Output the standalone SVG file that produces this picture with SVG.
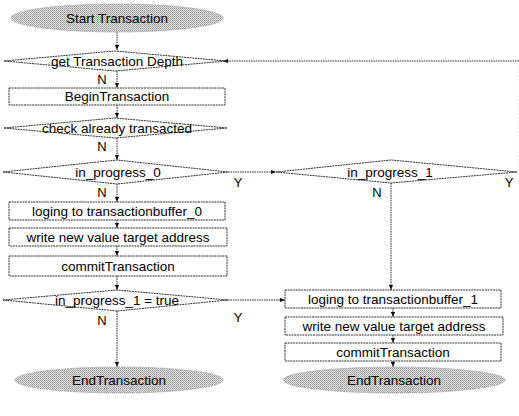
<svg xmlns="http://www.w3.org/2000/svg" width="519" height="416" viewBox="0 0 519 416">
  <defs>
    <!-- grainy grey halftone used for the terminator ellipses -->
    <pattern id="halftone" width="2" height="2" patternUnits="userSpaceOnUse">
      <rect width="2" height="2" fill="#e2e2e2"/>
      <rect width="1" height="1" fill="#959595"/>
      <rect x="1" y="1" width="1" height="1" fill="#b0b0b0"/>
    </pattern>
    <marker id="arrow" viewBox="0 0 6 6" refX="6" refY="3" markerWidth="5" markerHeight="5" markerUnits="userSpaceOnUse" orient="auto">
      <path d="M0,0.5 L6,3 L0,5.5 z" fill="#111"/>
    </marker>
    <style>
      .shape { fill: #fff; stroke: #333; stroke-width: 1; stroke-dasharray: 2 0.7; }
      .term { fill: url(#halftone); stroke: #aaa; stroke-width: 1; stroke-dasharray: 2 1; }
      .edge { fill: none; stroke: #333; stroke-width: 1; stroke-dasharray: 1.6 0.8; }
      .faint { fill: none; stroke: #e4e4e4; stroke-width: 1; stroke-dasharray: 1.5 2; }
      text { font-family: "Liberation Sans", Arial, sans-serif; font-size: 13.5px; fill: #000; text-anchor: middle; }
      .lbl { font-size: 13px; }
    </style>
  </defs>

  <!-- connectors -->
  <g id="connectors">
    <path class="edge" d="M117,32 V50" marker-end="url(#arrow)"/>
    <path class="edge" d="M519,61 H223" marker-end="url(#arrow)"/>
    <path class="faint" d="M518,61 V171"/>
    <path class="edge" d="M117,71 V88" marker-end="url(#arrow)"/>
    <path class="edge" d="M117,105 V118" marker-end="url(#arrow)"/>
    <path class="edge" d="M117,138 V160" marker-end="url(#arrow)"/>
    <path class="edge" d="M228,172 H276" marker-end="url(#arrow)"/>
    <path class="edge" d="M117,184 V202" marker-end="url(#arrow)"/>
    <path class="edge" d="M117,220 V228" marker-end="url(#arrow)"/>
    <path class="edge" d="M117,246 V256" marker-end="url(#arrow)"/>
    <path class="edge" d="M117,276 V290" marker-end="url(#arrow)"/>
    <path class="edge" d="M117,311 V367" marker-end="url(#arrow)"/>
    <path class="edge" d="M228,300 H285" marker-end="url(#arrow)"/>
    <path class="edge" d="M391,183 V290" marker-end="url(#arrow)"/>
    <path class="edge" d="M393,308 V317" marker-end="url(#arrow)"/>
    <path class="edge" d="M393,335 V343" marker-end="url(#arrow)"/>
    <path class="edge" d="M393,361 V367" marker-end="url(#arrow)"/>
  </g>

  <!-- branch labels -->
  <g id="labels">
    <text class="lbl" x="102" y="84">N</text>
    <text class="lbl" x="102" y="151">N</text>
    <text class="lbl" x="102" y="197">N</text>
    <text class="lbl" x="238" y="187">Y</text>
    <text class="lbl" x="377" y="197">N</text>
    <text class="lbl" x="509" y="187">Y</text>
    <text class="lbl" x="102" y="325">N</text>
    <text class="lbl" x="238" y="322">Y</text>
  </g>

  <g id="start">
    <ellipse class="term" cx="117" cy="18" rx="106" ry="14"/>
    <text x="117" y="23">Start Transaction</text>
  </g>

  <g id="get-depth">
    <polygon class="shape" points="4,61 115,51 226,61 115,71"/>
    <text x="117" y="66">get Transaction Depth</text>
  </g>

  <g id="begin">
    <rect class="shape" x="9" y="88" width="216" height="17"/>
    <text x="117" y="101">BeginTransaction</text>
  </g>

  <g id="check-transacted">
    <polygon class="shape" points="4,128 115,118 227,128 115,138"/>
    <text x="117" y="133">check already transacted</text>
  </g>

  <g id="in-progress-0">
    <polygon class="shape" points="3,172 117,160 228,172 117,184"/>
    <text x="118" y="177">in_progress_0</text>
  </g>

  <g id="in-progress-1">
    <polygon class="shape" points="276,172 391,160 517,172 391,183"/>
    <text x="390" y="177">in_progress_1</text>
  </g>

  <g id="log-0">
    <rect class="shape" x="9" y="202" width="216" height="18"/>
    <text x="117" y="216">loging to transactionbuffer_0</text>
  </g>

  <g id="write-0">
    <rect class="shape" x="9" y="228" width="218" height="18"/>
    <text x="118" y="242">write new value target address</text>
  </g>

  <g id="commit-0">
    <rect class="shape" x="9" y="256" width="218" height="20"/>
    <text x="118" y="271">commitTransaction</text>
  </g>

  <g id="progress-1-true">
    <polygon class="shape" points="3,300 117,290 228,300 117,311"/>
    <text x="117" y="305">in_progress_1 = true</text>
  </g>

  <g id="end-0">
    <ellipse class="term" cx="119" cy="380" rx="104" ry="13"/>
    <text x="119" y="385">EndTransaction</text>
  </g>

  <g id="log-1">
    <rect class="shape" x="285" y="290" width="216" height="18"/>
    <text x="393" y="304">loging to transactionbuffer_1</text>
  </g>

  <g id="write-1">
    <rect class="shape" x="285" y="317" width="218" height="18"/>
    <text x="394" y="331">write new value target address</text>
  </g>

  <g id="commit-1">
    <rect class="shape" x="285" y="343" width="216" height="18"/>
    <text x="393" y="357">commitTransaction</text>
  </g>

  <g id="end-1">
    <ellipse class="term" cx="394" cy="380" rx="111" ry="13"/>
    <text x="394" y="385">EndTransaction</text>
  </g>
</svg>
